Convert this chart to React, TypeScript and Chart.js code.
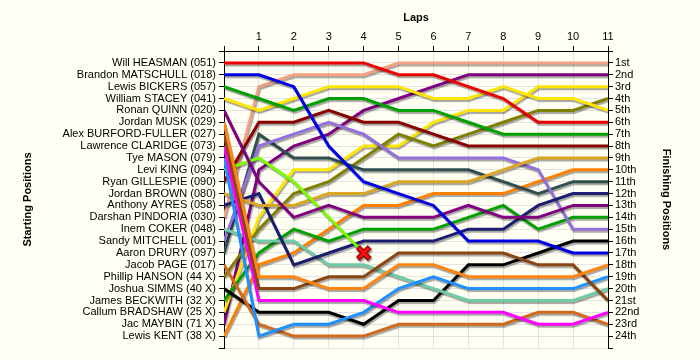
import React, { useEffect, useRef } from 'react';
import { Chart, registerables } from 'chart.js';

Chart.register(...registerables);

// ---- data ----
const laps = [0, 1, 2, 3, 4, 5, 6, 7, 8, 9, 10, 11];

const starters = [
  'Will HEASMAN (051)',
  'Brandon MATSCHULL (018)',
  'Lewis BICKERS (057)',
  'William STACEY (041)',
  'Ronan QUINN (020)',
  'Jordan MUSK (029)',
  'Alex BURFORD-FULLER (027)',
  'Lawrence CLARIDGE (073)',
  'Tye MASON (079)',
  'Levi KING (094)',
  'Ryan GILLESPIE (090)',
  'Jordan BROWN (080)',
  'Anthony AYRES (058)',
  'Darshan PINDORIA (030)',
  'Inem COKER (048)',
  'Sandy MITCHELL (001)',
  'Aaron DRURY (097)',
  'Jacob PAGE (017)',
  'Phillip HANSON (44 X)',
  'Joshua SIMMS (40 X)',
  'James BECKWITH (32 X)',
  'Callum BRADSHAW (25 X)',
  'Jac MAYBIN (71 X)',
  'Lewis KENT (38 X)',
];

const finishLabels = [
  '1st', '2nd', '3rd', '4th', '5th', '6th', '7th', '8th', '9th', '10th', '11th', '12th',
  '13th', '14th', '15th', '16th', '17th', '18th', '19th', '20th', '21st', '22nd', '23rd', '24th',
];

// position at each lap (lap 0 = grid)
const heasman = [1, 1, 1, 1, 1, 2, 2, 3, 4, 6, 6, 6];
const matschull = [2, 2, 3, 8, 11, 12, 13, 16, 16, 16, 17, 17];
const bickers = [3, 4, 5, 4, 4, 5, 5, 6, 7, 7, 7, 7];
const stacey = [4, 5, 4, 3, 3, 3, 4, 4, 3, 4, 4, 5];
const quinn = [5, 11, 14, 13, 14, 14, 14, 13, 14, 14, 13, 13];
const musk = [6, 19, 19, 20, 20, 18, 18, 19, 19, 19, 19, 18];
const burfordFuller = [7, 20, 20, 19, 19, 17, 17, 17, 17, 18, 18, 21];
const claridge = [8, 21, 21, 21, 21, 22, 22, 22, 22, 23, 23, 22];
const mason = [9, 24, 23, 23, 22, 20, 19, 20, 20, 20, 20, 19];
const king = [10, 9, 11, 14, 17];
const gillespie = [11, 6, 6, 5, 6, 6, 7, 8, 8, 8, 8, 8];
const brown = [12, 13, 13, 12, 12, 11, 11, 11, 10, 9, 9, 9];
const ayres = [13, 12, 18, 17, 16, 16, 16, 15, 15, 13, 12, 12];
const pindoria = [14, 3, 2, 2, 2, 1, 1, 1, 1, 1, 1, 1];
const coker = [15, 16, 16, 18, 18, 19, 20, 21, 21, 21, 21, 20];
const mitchell = [16, 8, 7, 6, 7, 9, 9, 9, 9, 10, 15, 15];
const drury = [17, 7, 9, 9, 10, 10, 10, 10, 11, 12, 11, 11];
const page = [18, 23, 24, 24, 24, 23, 23, 23, 23, 22, 22, 23];
const hanson = [19, 15, 12, 11, 9, 7, 8, 7, 6, 5, 5, 4];
const simms = [20, 22, 22, 22, 23, 21, 21, 18, 18, 17, 16, 16];
const beckwith = [21, 17, 15, 16, 15, 15, 15, 14, 13, 15, 14, 14];
const bradshaw = [22, 14, 10, 10, 8, 8, 6, 5, 5, 3, 3, 3];
const maybin = [23, 10, 8, 7, 5, 4, 3, 2, 2, 2, 2, 2];
const kent = [24, 18, 17, 15, 13, 13, 12, 12, 12, 11, 10, 10];

const series = [
  heasman, matschull, bickers, stacey, quinn, musk, burfordFuller, claridge,
  mason, king, gillespie, brown, ayres, pindoria, coker, mitchell, drury,
  page, hanson, simms, beckwith, bradshaw, maybin, kent,
];

// ---- styles ----
const colors = [
  '#ee0000', '#0000e6', '#00a000', '#ffe600', '#800080', '#ff8410', '#8b4513', '#ff00ff',
  '#1e90ff', '#7cfc00', '#880000', '#daa520', '#1c1c70', '#f4a082', '#6fcaa8', '#9370db',
  '#2f4f4f', '#d2691e', '#808000', '#000000', '#00a000', '#ffe600', '#800080', '#ff8000',
];

const FONT = "'Liberation Sans', Arial, sans-serif";
const BG = '#fffff3';

function makeCrossMarker(): HTMLCanvasElement {
  const c = document.createElement('canvas');
  c.width = 16;
  c.height = 16;
  const g = c.getContext('2d')!;
  const draw = (w: number, col: string) => {
    g.strokeStyle = col;
    g.lineWidth = w;
    g.lineCap = 'square';
    g.beginPath();
    g.moveTo(4, 4);
    g.lineTo(12, 12);
    g.moveTo(12, 4);
    g.lineTo(4, 12);
    g.stroke();
  };
  draw(5.5, '#8a0000');
  draw(3, '#ff1010');
  return c;
}

const shadowPlugin = {
  id: 'lineShadow',
  beforeDatasetDraw(chart: any) {
    const ctx = chart.ctx;
    ctx.save();
    ctx.shadowColor = 'rgba(0,0,0,0.35)';
    ctx.shadowOffsetX = 1;
    ctx.shadowOffsetY = 2;
    ctx.shadowBlur = 1;
  },
  afterDatasetDraw(chart: any) {
    chart.ctx.restore();
  },
};

const bgPlugin = {
  id: 'bg',
  beforeDraw(chart: any) {
    const ctx = chart.ctx;
    ctx.save();
    ctx.fillStyle = BG;
    ctx.fillRect(0, 0, chart.width, chart.height);
    ctx.restore();
  },
};

export default function App() {
  const ref = useRef<HTMLCanvasElement>(null);

  useEffect(() => {
    const lineSets = series.map((arr, i) => ({
      label: starters[i],
      data: arr.map((p, j) => ({ x: laps[j], y: p })),
      borderColor: colors[i],
      backgroundColor: colors[i],
      borderWidth: 3,
      pointRadius: 0,
      tension: 0,
      fill: false,
      order: 2,
    }));

    const retiredLap = laps[king.length - 1];
    const retiredPos = king[king.length - 1];

    const markerSets = [
      {
        label: 'retired',
        data: [{ x: retiredLap, y: retiredPos }],
        showLine: false,
        pointStyle: makeCrossMarker(),
        pointRadius: 8,
        order: 0,
      },
    ];

    const tickFont = { family: FONT, size: 11 };
    const titleFont = { family: FONT, size: 11, weight: 'bold' as const };

    const chart = new Chart(ref.current!, {
      type: 'line',
      data: { datasets: [...markerSets, ...lineSets] as any },
      plugins: [bgPlugin, shadowPlugin],
      options: {
        animation: false,
        responsive: false,
        devicePixelRatio: 1,
        layout: { padding: { left: 0, right: 0, top: 0, bottom: 12 } },
        plugins: { legend: { display: false }, tooltip: { enabled: false } },
        scales: {
          x: {
            type: 'linear',
            position: 'top',
            min: 0,
            max: 11,
            ticks: {
              stepSize: 1,
              autoSkip: false,
              maxRotation: 0,
              color: '#000',
              font: tickFont,
              padding: 2,
              callback: (v: any) => (v === 0 ? '' : String(v)),
            },
            grid: { color: '#e3e3e3', tickColor: '#000', tickLength: 5, lineWidth: 1 },
            border: { color: '#000', width: 1 },
            title: { display: true, text: 'Laps', color: '#000', font: titleFont, padding: { top: 11, bottom: 0 } },
            afterFit: (s: any) => { s.height = 51; },
          },
          y: {
            type: 'linear',
            position: 'left',
            reverse: true,
            min: 0,
            max: 25,
            ticks: {
              stepSize: 1,
              autoSkip: false,
              color: '#000',
              font: tickFont,
              padding: 3,
              callback: (v: any) => starters[v - 1] ?? '',
            },
            grid: { color: '#e3e3e3', tickColor: '#000', tickLength: 5, lineWidth: 1 },
            border: { color: '#000', width: 1 },
            title: { display: true, text: 'Starting Positions', color: '#000', font: titleFont, padding: { top: 21, bottom: 0 } },
            afterFit: (s: any) => { s.width = 224; },
          },
          y2: {
            type: 'linear',
            position: 'right',
            reverse: true,
            min: 0,
            max: 25,
            ticks: {
              stepSize: 1,
              autoSkip: false,
              color: '#000',
              font: tickFont,
              padding: 2,
              callback: (v: any) => finishLabels[v - 1] ?? '',
            },
            grid: { drawOnChartArea: false, color: '#e3e3e3', tickColor: '#000', tickLength: 5 },
            border: { color: '#000', width: 1 },
            title: { display: true, text: 'Finishing Positions', color: '#000', font: titleFont, padding: { top: 27, bottom: 0 } },
            afterFit: (s: any) => { s.width = 92; },
          },
        },
      } as any,
    });
    return () => chart.destroy();
  }, []);

  return (
    <div style={{ position: 'absolute', left: 0, top: 0, width: 700, height: 360, background: BG }}>
      <canvas ref={ref} width={700} height={360} style={{ display: 'block' }} />
    </div>
  );
}
